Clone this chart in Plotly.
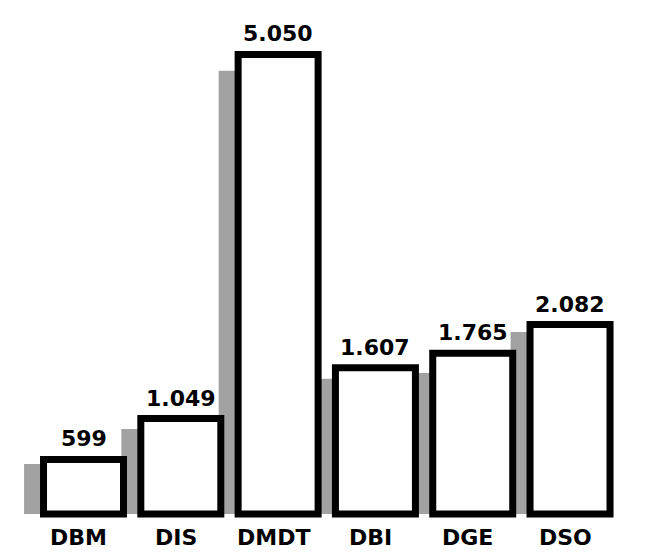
import plotly.graph_objects as go

categories = ["DBM", "DIS", "DMDT", "DBI", "DGE", "DSO"]
values = [599, 1049, 5050, 1607, 1765, 2082]
shadow_values = [550, 935, 4870, 1485, 1550, 2000]

FONT = "DejaVu Sans"
BAR_W = 0.822
SHIFT = 0.2

fig = go.Figure()
fig.add_trace(go.Bar(
    x=categories, y=shadow_values,
    width=BAR_W, offset=-BAR_W / 2 - SHIFT,
    marker=dict(color="#a2a2a2", line=dict(width=0)),
    hoverinfo="skip", showlegend=False,
))
fig.add_trace(go.Bar(
    x=categories, y=values,
    width=BAR_W, offset=-BAR_W / 2,
    marker=dict(color="white", line=dict(color="black", width=7)),
    showlegend=False,
))

for c, v in zip(categories, values):
    fig.add_annotation(
        x=c, y=v, text=f"{v:,}".replace(",", "."),
        showarrow=False, yanchor="bottom", yshift=6,
        font=dict(family=FONT, size=22, color="black", weight="bold"),
    )
    fig.add_annotation(
        x=c, y=0, yref="paper", text=c,
        showarrow=False, yanchor="top", xshift=-5, yshift=-2,
        font=dict(family=FONT, size=22, color="black", weight="bold"),
    )

fig.update_layout(
    width=650, height=560,
    margin=dict(l=0, r=0, t=0, b=47),
    barmode="overlay",
    plot_bgcolor="white", paper_bgcolor="white",
    xaxis=dict(
        range=[-0.776, 5.904], showgrid=False, zeroline=False, showline=False,
        ticks="", showticklabels=False,
    ),
    yaxis=dict(
        range=[-77, 5560], visible=False, showgrid=False, zeroline=False,
    ),
)

fig.write_html("out.html")
